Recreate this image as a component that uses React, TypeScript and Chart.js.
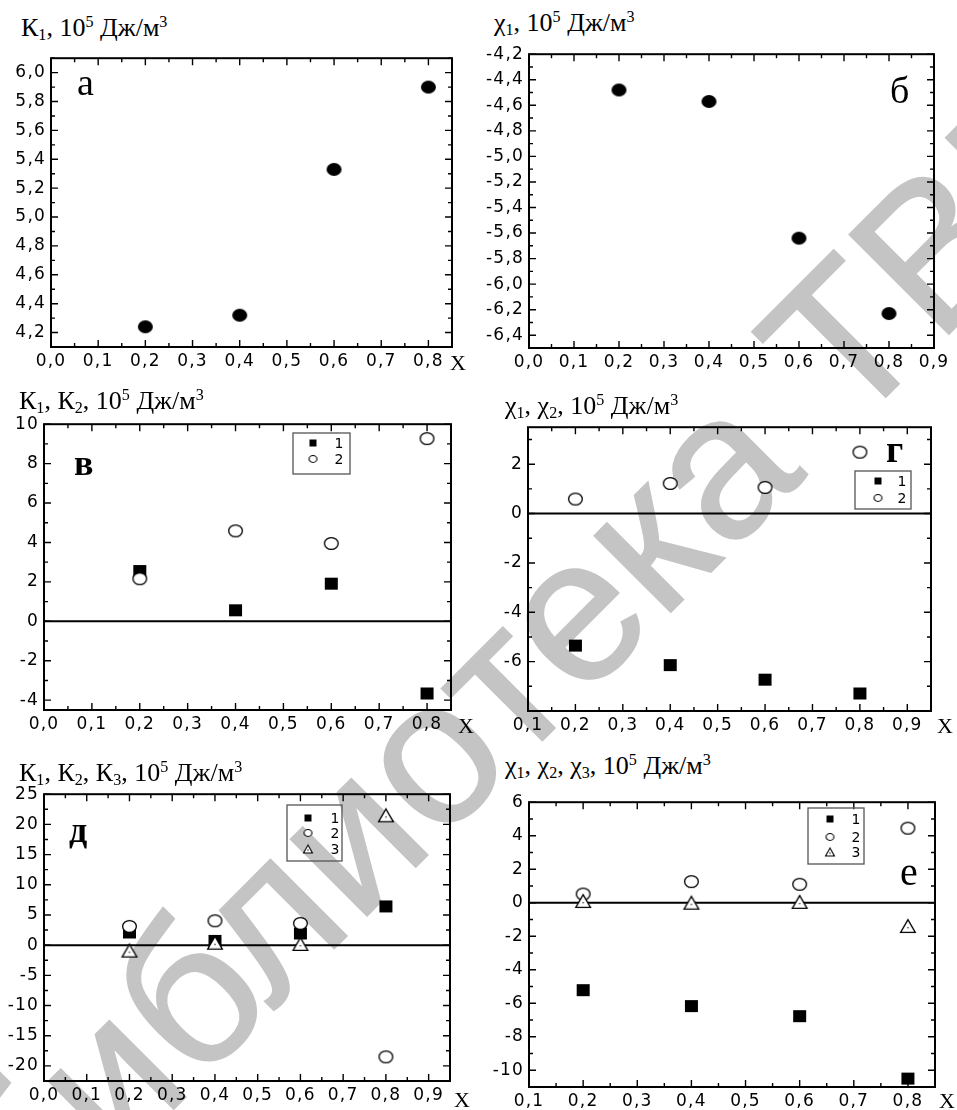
import React, { useEffect, useRef } from 'react';
import { Chart, registerables } from 'chart.js';

Chart.register(...registerables);

// ---------------- data ----------------
const compositions = [0.2, 0.4, 0.6, 0.8];

const panelA_K1 = [4.24, 4.32, 5.33, 5.9];
const panelB_chi1 = [-4.48, -4.57, -5.64, -6.23];
const panelV_K1 = [2.55, 0.56, 1.91, -3.66];
const panelV_K2 = [2.16, 4.59, 3.95, 9.27];
const panelG_chi1 = [-5.35, -6.14, -6.73, -7.29];
const panelG_chi2 = [0.59, 1.22, 1.06, 2.49];
const panelD_K1 = [2.1, 0.7, 1.93, 6.42];
const panelD_K2 = [3.1, 4.04, 3.6, -18.5];
const panelD_K3 = [-0.9, 0.4, 0.2, 21.5];
const panelE_chi1 = [-5.22, -6.17, -6.77, -10.5];
const panelE_chi2 = [0.52, 1.26, 1.1, 4.45];
const panelE_chi3 = [0.1, 0.0, 0.05, -1.39];

const xTicks00to08 = [0, 0.1, 0.2, 0.3, 0.4, 0.5, 0.6, 0.7, 0.8];
const xTicks00to09 = [0, 0.1, 0.2, 0.3, 0.4, 0.5, 0.6, 0.7, 0.8, 0.9];
const xTicks01to09 = [0.1, 0.2, 0.3, 0.4, 0.5, 0.6, 0.7, 0.8, 0.9];
const xTicks01to08 = [0.1, 0.2, 0.3, 0.4, 0.5, 0.6, 0.7, 0.8];
const yTicksA = [4.2, 4.4, 4.6, 4.8, 5.0, 5.2, 5.4, 5.6, 5.8, 6.0];
const yTicksB = [-6.4, -6.2, -6.0, -5.8, -5.6, -5.4, -5.2, -5.0, -4.8, -4.6, -4.4, -4.2];
const yTicksV = [-4, -2, 0, 2, 4, 6, 8, 10];
const yTicksG = [-6, -4, -2, 0, 2];
const yTicksD = [-20, -15, -10, -5, 0, 5, 10, 15, 20, 25];
const yTicksE = [-10, -8, -6, -4, -2, 0, 2, 4, 6];
const legendLabels = ['1', '2', '3'];
const watermarkText = 'библиотека ТВГУ';

// ---------------- panel setup ----------------
type Marker = 'dot' | 'square' | 'circle' | 'triangle';
type Panel = {
  rect: [number, number, number, number];
  xMin: number; xMax: number; yMin: number; yMax: number;
  xTicks: number[]; yTicks: number[];
  xMinor: number; yMinor: number; yDec: number;
  zero: boolean;
  series: { values: number[]; marker: Marker }[];
  legend?: { box: [number, number, number, number]; mx: number; tx: number; rows: number[] };
};

const panels: Panel[] = [
  {
    rect: [51, 58, 452, 347], xMin: 0, xMax: 0.85, yMin: 4.1, yMax: 6.1,
    xTicks: xTicks00to08, yTicks: yTicksA, xMinor: 0.05, yMinor: 0.1, yDec: 1, zero: false,
    series: [{ values: panelA_K1, marker: 'dot' }],
  },
  {
    rect: [529, 54, 934, 348], xMin: 0, xMax: 0.9, yMin: -6.5, yMax: -4.2,
    xTicks: xTicks00to09, yTicks: yTicksB, xMinor: 0.05, yMinor: 0.1, yDec: 1, zero: false,
    series: [{ values: panelB_chi1, marker: 'dot' }],
  },
  {
    rect: [44, 424, 451, 710], xMin: 0, xMax: 0.85, yMin: -4.5, yMax: 10,
    xTicks: xTicks00to08, yTicks: yTicksV, xMinor: 0.05, yMinor: 1, yDec: 0, zero: true,
    series: [{ values: panelV_K1, marker: 'square' }, { values: panelV_K2, marker: 'circle' }],
    legend: { box: [293, 433, 57, 41], mx: 313, tx: 339, rows: [443, 459] },
  },
  {
    rect: [528, 427, 931, 711], xMin: 0.1, xMax: 0.95, yMin: -8, yMax: 3.5,
    xTicks: xTicks01to09, yTicks: yTicksG, xMinor: 0.05, yMinor: 1, yDec: 0, zero: true,
    series: [{ values: panelG_chi1, marker: 'square' }, { values: panelG_chi2, marker: 'circle' }],
    legend: { box: [855, 471, 56, 38], mx: 878, tx: 902, rows: [481, 498] },
  },
  {
    rect: [44, 794, 450, 1081], xMin: 0, xMax: 0.95, yMin: -22.5, yMax: 25,
    xTicks: xTicks00to09, yTicks: yTicksD, xMinor: 0.05, yMinor: 2.5, yDec: 0, zero: true,
    series: [
      { values: panelD_K1, marker: 'square' },
      { values: panelD_K2, marker: 'circle' },
      { values: panelD_K3, marker: 'triangle' },
    ],
    legend: { box: [287, 805, 55, 56], mx: 308, tx: 335, rows: [818, 833, 849] },
  },
  {
    rect: [529, 802, 935, 1087], xMin: 0.1, xMax: 0.85, yMin: -11, yMax: 6,
    xTicks: xTicks01to08, yTicks: yTicksE, xMinor: 0.05, yMinor: 1, yDec: 0, zero: true,
    series: [
      { values: panelE_chi1, marker: 'square' },
      { values: panelE_chi2, marker: 'circle' },
      { values: panelE_chi3, marker: 'triangle' },
    ],
    legend: { box: [808, 808, 56, 56], mx: 830, tx: 856, rows: [819, 837, 852] },
  },
];

const PAD_L = 60;
const PAD_T = 15;
const PAD_R = 25;
const PAD_B = 35;

function makeMarker(kind: Marker, w: number, h: number, lw = 1.3): HTMLCanvasElement {
  const pad = 2;
  const c = document.createElement('canvas');
  c.width = w + pad * 2;
  c.height = h + pad * 2;
  const g = c.getContext('2d')!;
  const cx = c.width / 2;
  const cy = c.height / 2;
  g.fillStyle = '#000';
  g.strokeStyle = '#000';
  g.lineWidth = lw;
  if (kind === 'dot') {
    g.beginPath();
    g.ellipse(cx, cy, w / 2, h / 2, 0, 0, Math.PI * 2);
    g.fill();
  } else if (kind === 'square') {
    g.fillRect(cx - w / 2, cy - h / 2, w, h);
  } else if (kind === 'circle') {
    g.beginPath();
    g.ellipse(cx, cy, w / 2 - lw / 2, h / 2 - lw / 2, 0, 0, Math.PI * 2);
    g.fillStyle = '#fff';
    g.fill();
    g.stroke();
  } else {
    g.beginPath();
    g.moveTo(cx, cy - h / 2 + lw / 2);
    g.lineTo(cx + w / 2 - lw / 2, cy + h / 2 - lw / 2);
    g.lineTo(cx - w / 2 + lw / 2, cy + h / 2 - lw / 2);
    g.closePath();
    g.fillStyle = '#fff';
    g.fill();
    g.stroke();
    g.fillStyle = '#000';
    g.fillRect(cx - 0.6, cy + h * 0.12 - 0.6, 1.2, 1.2);
  }
  return c;
}

function tickValues(min: number, max: number, step: number): number[] {
  const out: number[] = [];
  const k0 = Math.ceil(min / step - 1e-9);
  const k1 = Math.floor(max / step + 1e-9);
  for (let k = k0; k <= k1; k++) out.push(+(k * step).toFixed(6));
  return out;
}

function fmt(v: number, dec: number): string {
  return dec > 0 ? v.toFixed(dec).replace('.', ',') : String(Math.round(v));
}

const tickFont = { family: '"DejaVu Sans", "Liberation Sans", Arial, sans-serif', size: 17 };

function PanelChart({ p }: { p: Panel }) {
  const ref = useRef<HTMLCanvasElement>(null);
  const [L, T, R, B] = p.rect;
  const w = R - L + PAD_L + PAD_R;
  const h = B - T + PAD_T + PAD_B;
  const ox = L - PAD_L;
  const oy = T - PAD_T;

  useEffect(() => {
    const icons: Record<Marker, HTMLCanvasElement> = {
      dot: makeMarker('dot', 15, 13),
      square: makeMarker('square', 13, 12),
      circle: makeMarker('circle', 15, 13),
      triangle: makeMarker('triangle', 16, 14),
    };
    const legendIcons: Record<Marker, HTMLCanvasElement> = {
      dot: makeMarker('dot', 8, 7),
      square: makeMarker('square', 7, 7),
      circle: makeMarker('circle', 9, 8, 1.1),
      triangle: makeMarker('triangle', 10, 9, 1.1),
    };

    const datasets: any[] = [];
    const n = p.series.length;
    p.series.forEach((s, i) => {
      datasets.push({
        label: legendLabels[i],
        data: compositions.map((x, j) => ({ x, y: s.values[j] })),
        pointStyle: icons[s.marker],
        pointRadius: 7,
        showLine: false,
        order: n - i,
      });
    });
    if (p.zero) {
      datasets.push({
        label: 'zero',
        data: [{ x: p.xMin, y: 0 }, { x: p.xMax, y: 0 }],
        showLine: true,
        borderColor: '#000',
        borderWidth: 2,
        pointRadius: 0,
        order: 20,
      });
    }

    const framePlugin = {
      id: 'frameTicks',
      beforeDraw(chart: any) {
        chart.ctx.letterSpacing = '1.2px';
      },
      afterDatasetsDraw(chart: any) {
        const ctx = chart.ctx;
        const a = chart.chartArea;
        const xs = chart.scales.x;
        const ys = chart.scales.y;
        ctx.save();
        ctx.letterSpacing = '0px';
        ctx.strokeStyle = '#000';
        ctx.lineWidth = 1.4;
        ctx.beginPath();
        for (const v of tickValues(p.xMin, p.xMax, p.xMinor)) {
          const px = xs.getPixelForValue(v);
          const len = p.xTicks.some((t) => Math.abs(t - v) < 1e-6) ? 7 : 4;
          ctx.moveTo(px, a.bottom);
          ctx.lineTo(px, a.bottom - len);
          ctx.moveTo(px, a.top);
          ctx.lineTo(px, a.top + len);
        }
        for (const v of tickValues(p.yMin, p.yMax, p.yMinor)) {
          const py = ys.getPixelForValue(v);
          const len = p.yTicks.some((t) => Math.abs(t - v) < 1e-6) ? 7 : 4;
          ctx.moveTo(a.left, py);
          ctx.lineTo(a.left + len, py);
          ctx.moveTo(a.right, py);
          ctx.lineTo(a.right - len, py);
        }
        ctx.stroke();
        ctx.lineWidth = 2;
        ctx.strokeRect(a.left, a.top, a.right - a.left, a.bottom - a.top);

        if (p.legend) {
          const { box, mx, tx, rows } = p.legend;
          ctx.strokeStyle = '#555';
          ctx.lineWidth = 1.3;
          ctx.strokeRect(box[0] - ox, box[1] - oy, box[2], box[3]);
          ctx.fillStyle = '#000';
          ctx.font = '14px "DejaVu Sans", "Liberation Sans", Arial, sans-serif';
          ctx.textAlign = 'center';
          ctx.textBaseline = 'middle';
          p.series.forEach((s, i) => {
            const ic = legendIcons[s.marker];
            ctx.drawImage(ic, mx - ox - ic.width / 2, rows[i] - oy - ic.height / 2);
            ctx.fillText(legendLabels[i], tx - ox, rows[i] - oy + 1);
          });
        }
        ctx.restore();
      },
    };

    const chart = new Chart(ref.current as HTMLCanvasElement, {
      type: 'scatter',
      data: { datasets },
      options: {
        animation: false,
        responsive: false,
        devicePixelRatio: 1,
        layout: { padding: { left: 0, top: PAD_T, right: PAD_R, bottom: 0 } },
        plugins: { legend: { display: false }, tooltip: { enabled: false } },
        events: [],
        scales: {
          x: {
            type: 'linear',
            min: p.xMin,
            max: p.xMax,
            afterBuildTicks: (s: any) => {
              s.ticks = p.xTicks.map((v) => ({ value: v }));
            },
            afterFit: (s: any) => {
              s.height = PAD_B;
            },
            grid: { display: false, drawTicks: false },
            border: { display: false },
            ticks: {
              color: '#000',
              font: tickFont,
              padding: 4,
              maxRotation: 0,
              autoSkip: false,
              callback: (v: any) => fmt(Number(v), 1),
            },
          },
          y: {
            type: 'linear',
            min: p.yMin,
            max: p.yMax,
            afterBuildTicks: (s: any) => {
              s.ticks = p.yTicks.map((v) => ({ value: v }));
            },
            afterFit: (s: any) => {
              s.width = PAD_L;
            },
            grid: { display: false, drawTicks: false },
            border: { display: false },
            ticks: {
              color: '#000',
              font: tickFont,
              padding: 5,
              autoSkip: false,
              callback: (v: any) => fmt(Number(v), p.yDec),
            },
          },
        },
      },
      plugins: [framePlugin],
    } as any);
    return () => chart.destroy();
  }, []);

  return (
    <canvas
      ref={ref}
      width={w}
      height={h}
      style={{ position: 'absolute', left: ox, top: oy, width: w, height: h }}
    />
  );
}

// ---------------- text ----------------
const serif = '"Liberation Serif", "Times New Roman", serif';

function Txt({ x, baseline, size, bold, children }: any) {
  return (
    <div
      style={{
        position: 'absolute',
        left: x,
        top: baseline - 0.8375 * size,
        fontFamily: serif,
        fontSize: size,
        lineHeight: 1,
        fontWeight: bold ? 700 : 400,
        whiteSpace: 'nowrap',
        color: '#000',
      }}
    >
      {children}
    </div>
  );
}

const Sub = ({ c }: { c: string }) => (
  <span style={{ fontSize: '0.62em', position: 'relative', top: '0.25em' }}>{c}</span>
);
const Sup = ({ c }: { c: string }) => (
  <span style={{ fontSize: '0.62em', position: 'relative', top: '-0.6em' }}>{c}</span>
);
const Unit = () => (
  <>
    10<Sup c="5" /> Дж/м<Sup c="3" />
  </>
);

export default function App() {
  return (
    <div
      style={{
        position: 'absolute',
        left: 0,
        top: 0,
        width: 957,
        height: 1110,
        overflow: 'hidden',
        background: '#fff',
      }}
    >
      <svg width={957} height={1110} style={{ position: 'absolute', left: 0, top: 0 }}>
        <text
          x={32}
          y={1251}
          transform="rotate(-45 32 1251)"
          fontFamily='"Liberation Sans", Arial, sans-serif'
          fontSize={205}
          fill="#c4c4c4"
          stroke="#c4c4c4"
          strokeWidth={1.5}
        >
          {watermarkText}
        </text>
      </svg>

      {panels.map((p, i) => (
        <PanelChart key={i} p={p} />
      ))}

      <Txt x={21} baseline={37} size={26}>
        К<Sub c="1" />, <Unit />
      </Txt>
      <Txt x={494} baseline={32} size={26}>
        χ<Sub c="1" />, <Unit />
      </Txt>
      <Txt x={19} baseline={410} size={26}>
        К<Sub c="1" />, К<Sub c="2" />, <Unit />
      </Txt>
      <Txt x={505} baseline={415} size={26}>
        χ<Sub c="1" />, χ<Sub c="2" />, <Unit />
      </Txt>
      <Txt x={19} baseline={782} size={26}>
        К<Sub c="1" />, К<Sub c="2" />, К<Sub c="3" />, <Unit />
      </Txt>
      <Txt x={505} baseline={775} size={26}>
        χ<Sub c="1" />, χ<Sub c="2" />, χ<Sub c="3" />, <Unit />
      </Txt>

      <Txt x={77} baseline={95} size={38}>а</Txt>
      <Txt x={890} baseline={103} size={38}>б</Txt>
      <Txt x={74} baseline={475} size={36} bold>в</Txt>
      <Txt x={886} baseline={462} size={38} bold>г</Txt>
      <Txt x={69} baseline={842} size={36} bold>д</Txt>
      <Txt x={900} baseline={885} size={40}>е</Txt>

      <Txt x={450} baseline={370} size={22}>X</Txt>
      <Txt x={458} baseline={733} size={22}>X</Txt>
      <Txt x={937} baseline={733} size={22}>X</Txt>
      <Txt x={454} baseline={1107} size={22}>X</Txt>
      <Txt x={939} baseline={1108} size={22}>X</Txt>
    </div>
  );
}
